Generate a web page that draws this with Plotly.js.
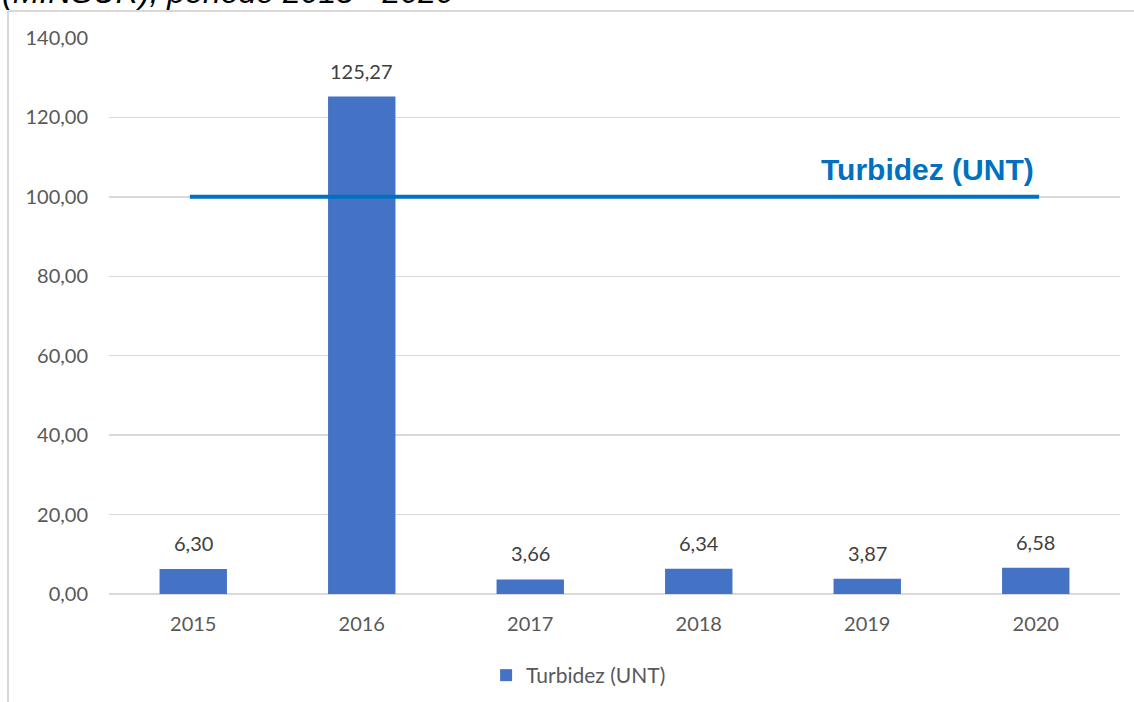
<!DOCTYPE html>
<html>
<head>
<meta charset="utf-8">
<script src="https://cdn.plot.ly/plotly-3.0.1.min.js"></script>
<style>
  html, body { margin: 0; padding: 0; background: #ffffff; }
  #chart { width: 1134px; height: 702px; }
</style>
</head>
<body>
<div id="chart"></div>
<script>
// Turbidez anual (UNT), 2015 - 2020
const years = ['2015', '2016', '2017', '2018', '2019', '2020'];
const turbidity = [6.30, 125.27, 3.66, 6.34, 3.87, 6.58];
const limitValue = 100;
const limitLabel = 'Turbidez (UNT)';
const seriesName = 'Turbidez (UNT)';
const yTicks = [0, 20, 40, 60, 80, 100, 120, 140];
const headerText = '(MINSUR), periodo 2015 - 2020';

const labelFont = { family: 'Lato, sans-serif', size: 20, color: '#595959' };

const bars = {
  type: 'bar',
  x: years,
  y: turbidity,
  name: seriesName,
  width: 0.4,
  marker: { color: '#4472C4' },
  hoverinfo: 'x+y'
};

// value labels above each bar (x given as category index)
const valueLabels = turbidity.map((v, i) => ({
  x: i,
  y: v,
  xref: 'x',
  yref: 'y',
  text: v.toFixed(2).replace('.', ','),
  showarrow: false,
  xanchor: 'center',
  yanchor: 'bottom',
  yshift: 12,
  font: { family: 'Lato, sans-serif', size: 20, color: '#404040' }
}));

const annotations = valueLabels.concat([
  {
    xref: 'paper', yref: 'y',
    x: 0.8096, y: limitValue,
    text: '<b>' + limitLabel + '</b>',
    showarrow: false,
    xanchor: 'center', yanchor: 'bottom',
    yshift: 9,
    font: { family: 'Liberation Sans, Arial, sans-serif', size: 30, color: '#0070C0' }
  },
  {
    xref: 'paper', yref: 'paper',
    x: -0.108, y: 1.047,
    text: '<i>' + headerText + '</i>',
    showarrow: false,
    xanchor: 'left', yanchor: 'bottom',
    font: { family: 'Liberation Sans, Arial, sans-serif', size: 32, color: '#000000' }
  }
]);

const layout = {
  width: 1134,
  height: 702,
  margin: { l: 109, r: 14, t: 38, b: 108, autoexpand: false },
  paper_bgcolor: '#ffffff',
  plot_bgcolor: '#ffffff',
  separators: ',.',
  font: labelFont,
  showlegend: true,
  legend: {
    orientation: 'h',
    x: 0.373, xanchor: 'left',
    y: -0.1097, yanchor: 'top',
    font: { family: 'Lato, sans-serif', size: 21, color: '#595959' },
    bgcolor: 'rgba(0,0,0,0)'
  },
  xaxis: {
    type: 'category',
    range: [-0.5, 5.5],
    automargin: false,
    showgrid: false,
    showline: false,
    zeroline: false,
    ticks: '',
    ticklabelstandoff: 16,
    tickfont: labelFont,
    fixedrange: true
  },
  yaxis: {
    range: [0, 140],
    autorange: false,
    automargin: false,
    tickvals: yTicks,
    tickformat: '.2f',
    showgrid: true,
    gridcolor: '#d9d9d9',
    gridwidth: 1.5,
    zeroline: true,
    zerolinecolor: '#d9d9d9',
    zerolinewidth: 1.5,
    showline: false,
    ticks: '',
    ticklabelstandoff: 20,
    tickfont: labelFont,
    fixedrange: true
  },
  shapes: [
    // reference limit line
    {
      type: 'line', xref: 'x', yref: 'y',
      x0: -0.02, x1: 5.02, y0: limitValue, y1: limitValue,
      line: { color: '#0070C0', width: 4 }
    },
    // chart frame: left and top edges
    {
      type: 'line', xref: 'paper', yref: 'paper',
      x0: -0.0999, x1: -0.0999, y0: 1.0486, y1: -0.2,
      line: { color: '#d9d9d9', width: 2 }
    },
    {
      type: 'line', xref: 'paper', yref: 'paper',
      x0: -0.0999, x1: 1.02, y0: 1.0486, y1: 1.0486,
      line: { color: '#d9d9d9', width: 2 }
    }
  ],
  annotations: annotations
};

Plotly.newPlot('chart', [bars], layout, { displayModeBar: false, staticPlot: true });
</script>
</body>
</html>
